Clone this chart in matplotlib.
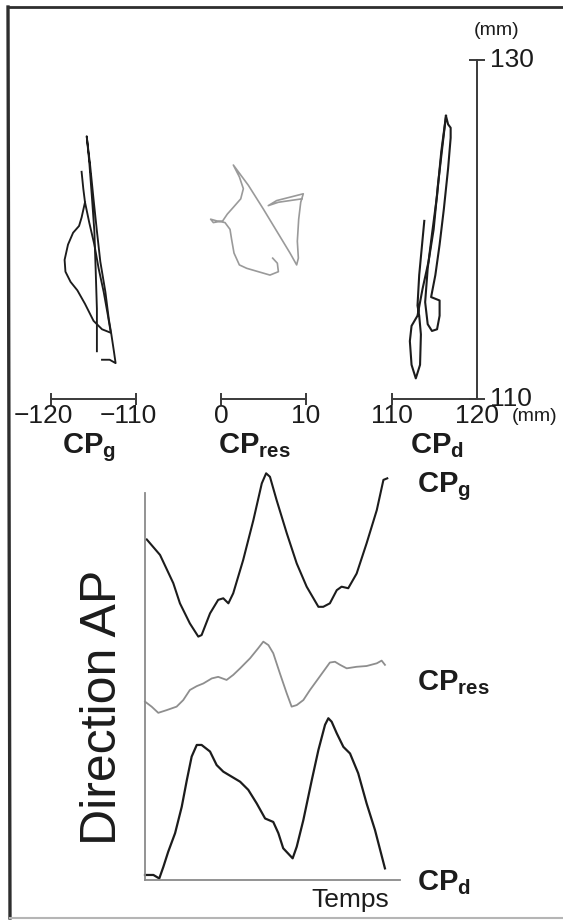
import matplotlib
matplotlib.use("Agg")
import matplotlib.pyplot as plt
from matplotlib.lines import Line2D

plt.rcParams["font.family"] = ["Liberation Sans", "DejaVu Sans"]
plt.rcParams["mathtext.fontset"] = "custom"
plt.rcParams["mathtext.rm"] = "Liberation Sans"
plt.rcParams["mathtext.bf"] = "Liberation Sans:bold"
plt.rcParams["mathtext.it"] = "Liberation Sans:italic"

# ---------------- centre-of-pressure paths in the horizontal plane (mm) ----------------
# left foot (CPg), three strands of the same recording
cpg_x1 = [-114.6, -114.6, -114.75, -114.9, -115.2, -115.5, -115.8, -115.4, -115.0, -114.6,
          -114.2, -113.6, -113.2, -112.9, -112.6, -112.4, -113.1, -114.0]
cpg_y1 = [112.8, 115.3, 117.7, 119.9, 122.0, 124.0, 125.5, 123.8, 121.8, 119.9,
          118.1, 116.3, 114.7, 113.8, 112.8, 112.1, 112.3, 112.3]
cpg_x2 = [-116.4, -116.2, -116.0, -115.5, -114.9, -114.4, -113.8, -113.3, -113.0]
cpg_y2 = [123.4, 122.4, 121.6, 120.4, 119.1, 117.7, 116.3, 114.9, 114.0]
cpg_x3 = [-116.0, -116.4, -116.7, -117.4, -118.0, -118.4, -118.3, -117.7, -116.9, -116.0,
          -115.0, -114.0, -113.0]
cpg_y3 = [121.6, 120.7, 120.2, 119.8, 119.1, 118.2, 117.5, 116.9, 116.4, 115.6,
          114.6, 114.1, 113.9]

# resultant (CPres)
cpres_x = [6.08, 6.63, 6.75, 5.76, 4.39, 3.02, 2.16, 1.53, 1.25, 1.06, 0.47, -0.51, -1.22,
           -0.9, 0.2, 0.74, 1.45, 2.32, 2.63, 2.16, 1.45, 3.22, 4.98, 6.55, 8.12, 8.9, 9.1,
           8.98, 9.14, 9.38, 9.68, 8.12, 6.55, 5.56, 6.75, 8.12, 9.49]
cpres_y = [118.3, 118.0, 117.5, 117.3, 117.5, 117.7, 117.9, 118.6, 119.4, 120.0, 120.4, 120.5,
           120.6, 120.4, 120.5, 120.9, 121.3, 121.8, 122.4, 123.1, 123.8, 122.6, 121.2, 119.9,
           118.6, 117.9, 118.3, 119.3, 120.6, 121.6, 122.1, 121.9, 121.7, 121.4, 121.6, 121.7,
           121.8]

# right foot (CPd)
cpd_x1 = [116.35, 116.6, 116.9, 116.9, 116.6, 116.1, 115.6, 115.1, 114.6, 115.1, 115.6,
          115.6, 115.3, 114.7, 114.2, 113.9, 114.2, 114.7, 115.3, 115.8, 116.35]
cpd_y1 = [126.7, 126.2, 126.0, 125.4, 123.6, 121.2, 119.1, 117.3, 116.0, 115.9, 115.8,
          114.9, 114.1, 114.0, 114.4, 115.7, 117.7, 119.7, 122.0, 124.6, 126.7]
cpd_x2 = [116.35, 116.0, 115.4, 114.9, 114.3, 113.6, 113.0, 112.3, 112.1, 112.3, 112.8,
          113.3, 113.4, 113.2, 113.0, 113.2, 113.5, 113.8]
cpd_y2 = [126.7, 125.2, 122.6, 120.0, 118.1, 116.5, 114.9, 114.3, 113.4, 112.0, 111.2,
          112.0, 113.8, 114.9, 115.5, 117.3, 118.9, 120.5]

# scale bars (mm)
bar_g = [-120, -110]
bar_res = [0, 10]
bar_d = [110, 120]
bar_ap = [110, 130]

# ---------------- antero-posterior displacement over time (arbitrary units) ----------------
t_g = [0.7, 5.9, 11.1, 13.7, 17.6, 20.9, 22.2, 25.5, 28.7, 30.7, 32.7, 34.6, 38.5, 42.5, 45.8,
       47.5, 49.0, 51.6, 55.6, 59.5, 63.4, 68.0, 69.9, 72.5, 75.2, 77.1, 79.7, 83.0, 86.9,
       90.9, 93.5, 95.0]
ap_g = [88.0, 84.0, 76.7, 71.5, 66.3, 62.9, 63.3, 68.9, 72.4, 72.8, 71.5, 74.1, 82.7, 93.0,
        102.5, 105.1, 104.2, 98.2, 89.6, 81.8, 75.8, 70.6, 70.6, 71.5, 74.9, 75.8, 75.4, 79.2,
        87.0, 95.6, 103.4, 103.8]

t_res = [0.0, 2.6, 5.2, 8.5, 12.4, 15.0, 17.6, 20.3, 22.9, 26.2, 28.7, 32.0, 34.6, 37.3, 41.2,
         44.4, 46.4, 48.4, 50.3, 52.9, 55.6, 57.5, 59.5, 62.1, 64.7, 68.0, 72.5, 74.5, 76.5,
         79.1, 83.0, 86.9, 90.9, 92.8, 94.1]
ap_res = [46.1, 44.8, 43.2, 43.9, 44.8, 46.5, 49.1, 50.1, 50.8, 52.1, 52.5, 51.7, 53.0, 54.7,
          57.3, 59.9, 61.6, 60.7, 58.6, 53.4, 48.2, 44.8, 45.2, 46.5, 49.1, 52.1, 56.2, 56.4,
          55.6, 54.7, 55.1, 55.3, 56.0, 56.7, 55.6]

t_d = [0.0, 3.3, 5.6, 7.2, 9.1, 11.8, 14.4, 16.4, 18.3, 20.3, 22.2, 25.5, 28.1, 30.7, 34.0,
       37.3, 40.5, 43.8, 47.1, 50.3, 52.3, 54.2, 57.9, 59.5, 62.1, 65.4, 68.0, 70.6, 71.9,
       73.2, 75.2, 77.8, 80.4, 83.6, 86.9, 90.2, 94.1]
ap_d = [1.3, 1.3, 0.4, 3.4, 7.3, 12.1, 18.9, 25.8, 31.9, 34.9, 34.9, 33.2, 29.7, 28.0, 26.7,
        25.4, 23.3, 19.8, 15.9, 15.0, 12.1, 8.2, 5.6, 8.6, 15.5, 25.8, 33.6, 40.1, 41.8, 40.9,
        37.9, 34.4, 32.7, 27.6, 19.8, 12.9, 3.0]

# ---------------- figure ----------------
W, H, DPI = 563, 922, 100
fig = plt.figure(figsize=(W / DPI, H / DPI), dpi=DPI)
fig.patch.set_facecolor("white")

INK = "#1c1c1c"
GREY = "#8e8e8e"
BAR = "#3a3a3a"


def place(left, top, right, bottom):
    """Add an axes given its box in pixels measured from the top-left corner."""
    return fig.add_axes([left / W, 1 - bottom / H, (right - left) / W, (bottom - top) / H])


def mm_label(v):
    return f"{v}".replace("-", "\u2212")


# top panel: three stabilograms sharing the vertical (AP) scale
top_t, top_b = 9.2, 449.5
ax_g = place(8.5, top_t, 178.5, top_b)
ax_r = place(178.5, top_t, 348.5, top_b)
ax_d = place(349.5, top_t, 519.5, top_b)
for ax, xl in ((ax_g, (-125, -105)), (ax_r, (-5, 15)), (ax_d, (105, 125))):
    ax.set_xlim(*xl)
    ax.set_ylim(107, 133)
    ax.set_axis_off()
    ax.patch.set_alpha(0)

for xs, ys in ((cpg_x1, cpg_y1), (cpg_x2, cpg_y2), (cpg_x3, cpg_y3)):
    ax_g.plot(xs, ys, color=INK, lw=1.35, solid_joinstyle="round", clip_on=False)
ax_r.plot(cpres_x, cpres_y, color="#9a9a9a", lw=1.2, solid_joinstyle="round", clip_on=False)
for xs, ys in ((cpd_x1, cpd_y1), (cpd_x2, cpd_y2)):
    ax_d.plot(xs, ys, color=INK, lw=1.5, solid_joinstyle="round", clip_on=False)

# horizontal scale bars with end caps
y_bar = bar_ap[0]
for ax, bar in ((ax_g, bar_g), (ax_r, bar_res)):
    ax.plot(bar, [y_bar, y_bar], color=BAR, lw=1.4, marker="|", ms=8, mew=1.4, clip_on=False)
ax_d.plot(bar_d, [y_bar, y_bar], color=BAR, lw=1.4, marker="|", ms=8, mew=1.4,
          markevery=[0], clip_on=False)
# vertical (AP) scale bar
ax_d.plot([bar_d[1], bar_d[1]], bar_ap, color=BAR, lw=1.4, marker="_", ms=11, mew=1.4,
          clip_on=False)

num_kw = dict(fontsize=19, color=INK, va="center", ha="center")
y_num = 108.95
for ax, bar in ((ax_g, bar_g), (ax_r, bar_res), (ax_d, bar_d)):
    for v in bar:
        # negative labels: keep the digits centred on the tick, the minus hangs left
        shift = -0.9 if v < 0 else 0.0
        ax.text(v + shift, y_num, mm_label(v), **num_kw)
ax_d.text(124.1, y_num, "(mm)", fontsize=14, color=INK, va="center", ha="left")
ax_d.text(121.5, bar_ap[1], mm_label(bar_ap[1]), fontsize=19, color=INK, va="center", ha="left")
ax_d.text(121.5, bar_ap[0], mm_label(bar_ap[0]), fontsize=19, color=INK, va="center", ha="left")
ax_d.text(122.3, 131.75, "(mm)", fontsize=14, color=INK, va="center", ha="center")

lab_kw = dict(fontsize=21, color=INK, va="baseline", ha="left")
ax_g.text(-118.7, 106.81, r"$\mathbf{CP_{g}}$", **lab_kw)
ax_r.text(-0.35, 106.81, r"$\mathbf{CP_{res}}$", **lab_kw)
ax_d.text(112.1, 106.81, r"$\mathbf{CP_{d}}$", **lab_kw)

# bottom panel: AP displacement against time
ax_t = place(145, 435, 400, 880)
ax_t.set_xlim(0, 100)
ax_t.set_ylim(0, 115)
ax_t.patch.set_alpha(0)
for side in ("top", "right"):
    ax_t.spines[side].set_visible(False)
for side in ("left", "bottom"):
    ax_t.spines[side].set_color("#8a8a8a")
    ax_t.spines[side].set_linewidth(1.3)
ax_t.spines["left"].set_bounds(0, 100)
ax_t.set_xticks([])
ax_t.set_yticks([])

ax_t.plot(t_g, ap_g, color=INK, lw=1.5, clip_on=False)
ax_t.plot(t_res, ap_res, color=GREY, lw=1.3, clip_on=False)
ax_t.plot(t_d, ap_d, color=INK, lw=1.6, clip_on=False)

ax_t.text(106.7, 100.3, r"$\mathbf{CP_{g}}$", **lab_kw)
ax_t.text(106.7, 49.1, r"$\mathbf{CP_{res}}$", **lab_kw)
ax_t.text(106.7, -2.6, r"$\mathbf{CP_{d}}$", **lab_kw)

ax_t.text(80.4, -5.2, "Temps", fontsize=19, color=INK, ha="center", va="center")
ax_t.text(-0.165, 0.389, "Direction AP", fontsize=36, color=INK, rotation=90,
          ha="center", va="center", transform=ax_t.transAxes)

# frame around the whole figure (open on the right edge)
frame = [((8, 10), (7, 918), "#2e2e2e", 2.4),
         ((8, 563), (7, 7), "#2e2e2e", 2.0),
         ((10, 563), (918, 918), "#b5b5b5", 1.5)]
for xs, ys, col, lw in frame:
    fig.add_artist(Line2D([x / W for x in xs], [1 - y / H for y in ys],
                          transform=fig.transFigure, color=col, lw=lw))

fig.savefig("out.png", dpi=DPI, facecolor="white")
